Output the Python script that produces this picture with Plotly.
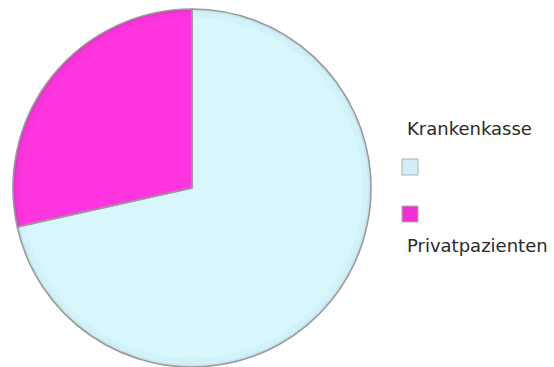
import plotly.graph_objects as go

# Patient split by billing type
labels = ["Krankenkasse", "Privatpazienten"]
values = [71.5, 28.5]

# Slice colours: rim tone, middle tone, face tone
face_colors = ["#D8F7FD", "#FF36E0"]
mid_colors = ["#D2F2FA", "#F834DA"]
rim_colors = ["#C8E8F2", "#EC30CE"]
swatch_colors = ["#D2EEF6", "#F030D4"]

W, H = 554, 367
cx, cy, r = 192.0, 188.0, 179.0  # pie centre and radius in pixels


def domain(scale):
    rr = r * scale
    return dict(
        x=[max(0, (cx - rr) / W), min(1, (cx + rr) / W)],
        y=[max(0, 1 - (cy + rr) / H), min(1, 1 - (cy - rr) / H)],
    )


fig = go.Figure()

common = dict(
    labels=labels,
    values=values,
    sort=False,
    direction="clockwise",
    rotation=0,
    textinfo="none",
    hoverinfo="label+percent",
    showlegend=False,
)

# Layered discs give the bevelled rim
for scale, cols in [(1.0, rim_colors), (0.985, mid_colors), (0.955, face_colors)]:
    fig.add_trace(go.Pie(domain=domain(scale), marker=dict(colors=cols, line=dict(width=0)), **common))

# Outline and slice separators on top
fig.add_trace(
    go.Pie(
        domain=domain(1.0),
        marker=dict(colors=["rgba(0,0,0,0)"] * len(labels), line=dict(color="#9A9A9A", width=1.6)),
        **common,
    )
)

# Custom legend: label above swatch for the first item, below for the second
sw = 16
swatch_tops = [159, 206]
label_centres = [128, 245]
label_x = 405

shapes = []
annotations = []
for i, name in enumerate(labels):
    y0 = swatch_tops[i]
    shapes.append(
        dict(
            type="rect", xref="paper", yref="paper",
            x0=402 / W, x1=(402 + sw) / W,
            y0=1 - (y0 + sw) / H, y1=1 - y0 / H,
            fillcolor=swatch_colors[i],
            line=dict(color="#B0B0B0", width=1),
        )
    )
    annotations.append(
        dict(
            text=name, xref="paper", yref="paper",
            x=label_x / W, y=1 - label_centres[i] / H,
            xanchor="left", yanchor="middle", showarrow=False,
            font=dict(family="DejaVu Sans", size=18, color="#2A2A2A"),
        )
    )

fig.update_layout(
    width=W,
    height=H,
    margin=dict(l=0, r=0, t=0, b=0),
    paper_bgcolor="white",
    plot_bgcolor="white",
    shapes=shapes,
    annotations=annotations,
)

fig.write_html("out.html")
